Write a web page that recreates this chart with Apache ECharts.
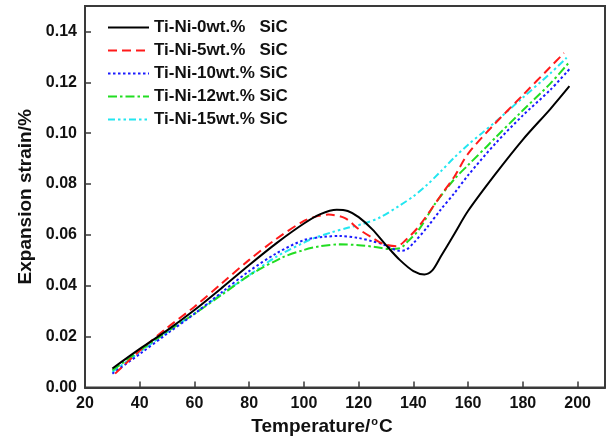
<!DOCTYPE html>
<html>
<head>
<meta charset="utf-8">
<script src="https://cdn.jsdelivr.net/npm/echarts@6/dist/echarts.min.js"></script>
<style>html,body{margin:0;padding:0;background:#fff}#c{width:608px;height:441px}</style>
</head>
<body>
<div id="c"></div>
<script>
const seriesNames = ['Ti-Ni-0wt.%   SiC','Ti-Ni-5wt.%   SiC','Ti-Ni-10wt.% SiC','Ti-Ni-12wt.% SiC','Ti-Ni-15wt.% SiC'];
const xTicks = [20,40,60,80,100,120,140,160,180,200];
const yTicks = [0.00,0.02,0.04,0.06,0.08,0.10,0.12,0.14];

const temp0 = [30,40,50,60,70,80,90,100,106,112,116,120,125,130,135,140,144,147,150,155,160,170,180,190,197];
const strain0 = [0.0075,0.0152,0.0225,0.0305,0.0392,0.0482,0.0568,0.0645,0.0682,0.0699,0.0694,0.0670,0.0622,0.0560,0.0502,0.0458,0.0445,0.0462,0.0515,0.0605,0.0695,0.0840,0.0975,0.1095,0.1185];

const temp5 = [31,40,50,60,70,80,90,100,105,109,115,120,125,129,134,137,142,150,155,160,170,180,190,195];
const strain5 = [0.0055,0.0145,0.0235,0.0318,0.0410,0.0502,0.0585,0.0655,0.0674,0.0680,0.0666,0.0623,0.0589,0.0565,0.0556,0.0578,0.0634,0.0755,0.0830,0.0920,0.1040,0.1150,0.1260,0.1315];

const temp10 = [30,40,50,60,70,80,90,100,107,113,120,125,129,135,137,140,145,150,155,160,170,180,190,197];
const strain10 = [0.0055,0.0132,0.0212,0.0290,0.0375,0.0458,0.0528,0.0580,0.0592,0.0596,0.0588,0.0575,0.0563,0.0538,0.0540,0.0568,0.0630,0.0700,0.0765,0.0835,0.0960,0.1070,0.1170,0.1252];

const temp12 = [30,40,50,60,70,80,92,100,106,113,120,126,131,135,138,142,148,155,160,167,170,180,190,197];
const strain12 = [0.0068,0.0145,0.0220,0.0290,0.0365,0.0441,0.0511,0.0541,0.0556,0.0563,0.0560,0.0553,0.0545,0.0548,0.0575,0.0621,0.0724,0.0820,0.0875,0.0950,0.0983,0.1090,0.1195,0.1280];

const temp15 = [30,40,50,60,70,80,90,100,104,110,116,122,128,135,140,145,150,155,160,165,170,180,190,196];
const strain15 = [0.0062,0.0140,0.0218,0.0292,0.0368,0.0442,0.0515,0.0570,0.0589,0.0610,0.0628,0.0645,0.0670,0.0716,0.0752,0.0797,0.0850,0.0905,0.0955,0.1000,0.1045,0.1140,0.1235,0.1297];

const temps = [temp0,temp5,temp10,temp12,temp15];
const strains = [strain0,strain5,strain10,strain12,strain15];
const colors = ['#000000','#ff1a1a','#1a1aff','#22dd22','#22e6f0'];
const dashes = ['solid',[9,5],[2.5,2.5],[9,3,2.5,3],[7,3,2.5,3,2.5,3]];

const chart = echarts.init(document.getElementById('c'), null, {renderer:'canvas'});
const font = 'Liberation Sans, Arial, sans-serif';

const series = seriesNames.map((n,i)=>({
  name:n, type:'line', symbol:'none', smooth:0.3,
  data: temps[i].map((t,j)=>[t, strains[i][j]]),
  lineStyle:{color:colors[i], width:2, type:dashes[i]},
  itemStyle:{color:colors[i]},
  z: 10 - i
}));

chart.setOption({
  animation:false,
  backgroundColor:'#fff',
  grid:{left:85, right:3, top:6, bottom:47, show:true, borderColor:'#3a3a3a', borderWidth:2, containLabel:false},
  legend:{
    orient:'vertical', left:102, top:14, itemWidth:41, itemHeight:14, itemGap:6,
    itemStyle:{opacity:0, borderWidth:0},
    textStyle:{fontFamily:font, fontWeight:'bold', fontSize:17, color:'#111'},
    data: seriesNames
  },
  xAxis:{
    type:'value', min:20, max:210, interval:20,
    axisLine:{lineStyle:{color:'#3a3a3a', width:2}},
    axisTick:{inside:true, length:6, lineStyle:{color:'#3a3a3a', width:1.5}},
    axisLabel:{fontFamily:font, fontWeight:'bold', fontSize:16, color:'#111', margin:8,
      formatter:v=> xTicks.includes(v) ? String(v) : ''},
    splitLine:{show:false},
    name:'Temperature/{sup|o}C', nameLocation:'middle', nameGap:24,
    nameTextStyle:{fontFamily:font, fontWeight:'bold', fontSize:19, color:'#111', padding:[0,46,0,0],
      rich:{sup:{fontFamily:font, fontWeight:'bold', fontSize:11, color:'#111', verticalAlign:'top', padding:[0,1,9,1]}}}
  },
  yAxis:{
    type:'value', min:0, max:0.15, interval:0.02,
    axisLine:{lineStyle:{color:'#3a3a3a', width:2}},
    axisTick:{inside:true, length:6, lineStyle:{color:'#3a3a3a', width:1.5}},
    axisLabel:{fontFamily:font, fontWeight:'bold', fontSize:16, color:'#111', margin:8,
      formatter:v=>{ const f = v.toFixed(2); return yTicks.map(t=>t.toFixed(2)).includes(f) ? f : ''; }},
    splitLine:{show:false},
    name:'Expansion strain/%', nameLocation:'middle', nameGap:50,
    nameTextStyle:{fontFamily:font, fontWeight:'bold', fontSize:19, color:'#111'}
  },
  series: series
});
</script>
</body>
</html>
